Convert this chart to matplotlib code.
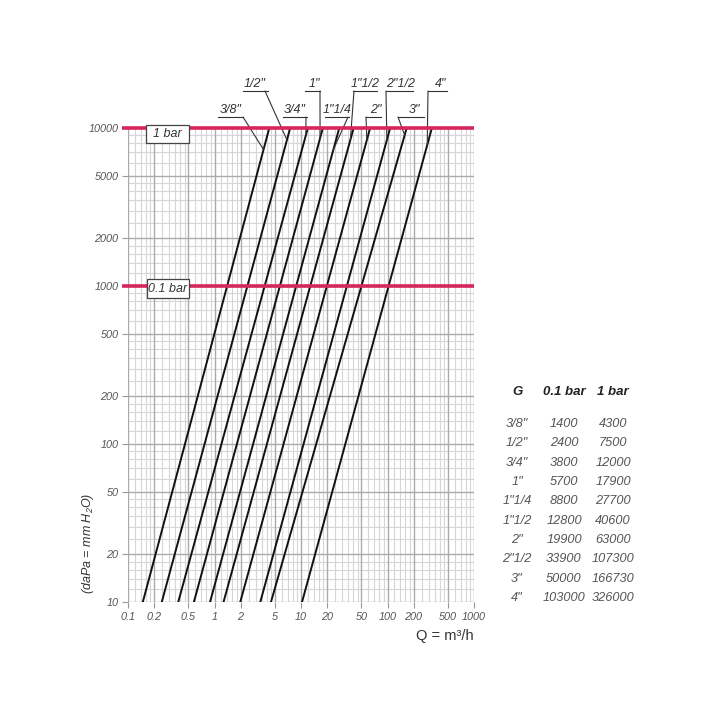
import numpy as np
import matplotlib
matplotlib.use("Agg")
import matplotlib.pyplot as plt
from matplotlib.patches import Rectangle
from matplotlib.lines import Line2D

# ---------------- data ----------------
sizes = ['3/8"', '1/2"', '3/4"', '1"', '1"1/4', '1"1/2', '2"', '2"1/2', '3"', '4"']
flow_01bar = [1400, 2400, 3800, 5700, 8800, 12800, 19900, 33900, 50000, 103000]      # l/h at 0.1 bar
flow_1bar = [4300, 7500, 12000, 17900, 27700, 40600, 63000, 107300, 166730, 326000]  # l/h at 1 bar
x_ticks = [0.1, 0.2, 0.5, 1, 2, 5, 10, 20, 50, 100, 200, 500, 1000]
x_ticklabels = ['0.1', '0.2', '0.5', '1', '2', '5', '10', '20', '50', '100', '200', '500', '1000']
y_ticks = [10, 20, 50, 100, 200, 500, 1000, 2000, 5000, 10000]
y_ticklabels = ['10', '20', '50', '100', '200', '500', '1000', '2000', '5000', '10000']
ref_levels = [10000, 1000]
ref_labels = ['1 bar', '0.1 bar']
table_header = ['G', '0.1 bar', '1 bar']

# ---------------- style ----------------
W = H = 720
FONT = ['Liberation Sans', 'DejaVu Sans']
RED = '#d6265c'
TXT = '#555555'
plt.rcParams['font.family'] = FONT
plt.rcParams['mathtext.fontset'] = 'custom'
plt.rcParams['mathtext.rm'] = 'Liberation Sans:italic'
plt.rcParams['mathtext.it'] = 'Liberation Sans:italic'

fig = plt.figure(figsize=(7.2, 7.2), dpi=100)
fig.patch.set_facecolor('white')

def fx(px):
    return px / W

def fy(py):
    return 1 - py / H

ax_l, ax_r, ax_t, ax_b = 128, 474, 128, 602
ax = fig.add_axes([fx(ax_l), fy(ax_b), (ax_r - ax_l) / W, (ax_b - ax_t) / H])
ax.set_xscale('log')
ax.set_yscale('log')
ax.set_xlim(0.1, 1000)
ax.set_ylim(10, 10000)

# grid
subs_minor = [1.2, 1.4, 1.6, 1.8, 2.5, 3, 3.5, 4, 4.5, 6, 7, 8, 9]
subs_major = [1, 2, 5]
for dec in [0.1, 1, 10, 100]:
    for s in subs_minor:
        ax.axvline(dec * s, color='#d6d6d6', lw=0.8, zorder=0)
    for s in subs_major:
        ax.axvline(dec * s, color='#ababab', lw=1.0, zorder=0.5)
ax.axvline(1000, color='#ababab', lw=1.0, zorder=0.5)
for dec in [10, 100, 1000]:
    for s in subs_minor:
        ax.axhline(dec * s, color='#d6d6d6', lw=0.8, zorder=0)
    for s in subs_major:
        ax.axhline(dec * s, color='#ababab', lw=1.0, zorder=0.5)

for sp in ax.spines.values():
    sp.set_visible(False)

ax.set_xticks(x_ticks)
ax.set_xticklabels(x_ticklabels)
ax.set_yticks(y_ticks)
ax.set_yticklabels(y_ticklabels)
ax.minorticks_off()
ax.tick_params(axis='both', length=4, width=0.8, color='#999999', labelcolor=TXT,
               labelsize=7.8, pad=3)
for lab in ax.get_xticklabels() + ax.get_yticklabels():
    lab.set_fontstyle('italic')

# pressure-drop lines (power law through the two table points)
dp_lo, dp_hi = 10, 10000
line_pts = []
for q01, q1 in zip(flow_01bar, flow_1bar):
    a = np.log10(q01 / 1000.0)
    b = np.log10(q1 / 1000.0)
    slope = (b - a) / (4 - 3)
    qlo = 10 ** (a + (np.log10(dp_lo) - 3) * slope)
    qhi = 10 ** (a + (np.log10(dp_hi) - 3) * slope)
    line_pts.append((a, slope))
    ax.plot([qlo, qhi], [dp_lo, dp_hi], color='#111111', lw=1.4, zorder=3)

def q_at(i, dp):
    a, slope = line_pts[i]
    return 10 ** (a + (np.log10(dp) - 3) * slope)

# red reference lines
for lvl in ref_levels:
    ax.plot([0.1 * 10 ** (-6 / 86.5), 1000], [lvl, lvl], color=RED, lw=2.6, zorder=4,
            clip_on=False, solid_capstyle='butt')

# boxes on red lines
box_specs = [(146, 125, 189, 143), (147, 279, 189, 298)]
for (x0, y0, x1, y1), lab in zip(box_specs, ref_labels):
    fig.patches.append(Rectangle((fx(x0), fy(y1)), (x1 - x0) / W, (y1 - y0) / H,
                                 transform=fig.transFigure, facecolor='white',
                                 edgecolor='#444444', lw=0.9, zorder=10))
    fig.text(fx((x0 + x1) / 2), fy((y0 + y1) / 2), lab, ha='center', va='center',
             fontsize=9, style='italic', color='#333333', zorder=11)

# size labels with leader lines: (text cx, text cy, underline x0, x1, y, leader start x, end dp)
leaders = [
    (231, 110, 218, 243, 117, 243, 7300),
    (255, 84, 243, 268, 91, 265, 8400),
    (295, 110, 283, 307, 117, 306, 9000),
    (314, 84, 305, 320, 91, 320, 8600),
    (337, 110, 325, 349, 117, 348, 7300),
    (365, 84, 353, 377, 91, 354, 8400),
    (376, 110, 366, 381, 117, 366, 8400),
    (401, 84, 386, 413, 91, 386, 8400),
    (414, 110, 398, 424, 117, 398, 9000),
    (441, 84, 428, 447, 91, 428, 7800),
]
for i, (tx, ty, u0, u1, uy, lx, dpe) in enumerate(leaders):
    fig.text(fx(tx), fy(ty), sizes[i], ha='center', va='center', fontsize=9,
             style='italic', color='#333333')
    fig.add_artist(Line2D([fx(u0), fx(u1)], [fy(uy), fy(uy)], color='#333333', lw=0.8,
                          transform=fig.transFigure))
    ax.annotate('', xy=(q_at(i, dpe), dpe), xycoords='data',
                xytext=(fx(lx), fy(uy)), textcoords='figure fraction',
                arrowprops=dict(arrowstyle='-', shrinkA=0, shrinkB=0, lw=0.8,
                                color='#333333'), annotation_clip=False)

# axis labels
fig.text(fx(474), fy(636), 'Q = m³/h', ha='right', va='center', fontsize=10.5,
         color='#333333')
fig.text(fx(88), fy(543), '(daPa = mm H$_2$O)', ha='center', va='center', fontsize=9,
         rotation=90, style='italic', color='#333333')

# table
col_x = [517, 564, 613]
for cx, h in zip(col_x, table_header):
    fig.text(fx(cx), fy(392), h, ha='center', va='center', fontsize=9.5,
             style='italic', weight='bold', color='#222222')
row_y0, row_dy = 424, 19.33
for r in range(len(sizes)):
    y = row_y0 + r * row_dy
    vals = [sizes[r], str(flow_01bar[r]), str(flow_1bar[r])]
    for cx, v in zip(col_x, vals):
        fig.text(fx(cx), fy(y), v, ha='center', va='center', fontsize=9.2,
                 style='italic', color=TXT)

fig.savefig('out.png', dpi=100, facecolor='white')
